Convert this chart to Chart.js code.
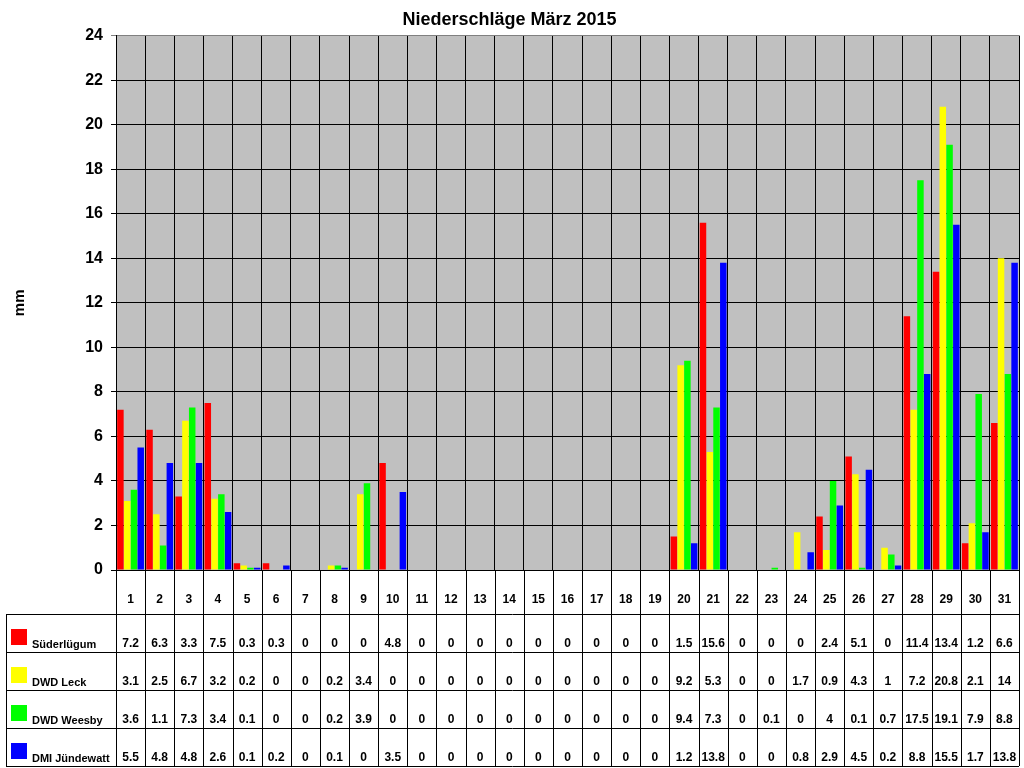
<!DOCTYPE html>
<html>
<head>
<meta charset="utf-8">
<script src="https://cdn.jsdelivr.net/npm/chart.js@4/dist/chart.umd.min.js"></script>
<style>
  html, body { margin: 0; padding: 0; background: #fff; overflow: hidden; }
  #wrap { position: relative; width: 1024px; height: 768px; }
</style>
</head>
<body>
<div id="wrap"><canvas id="myChart"></canvas></div>
<script>
// Tage im März
const days = ["1","2","3","4","5","6","7","8","9","10","11","12","13","14","15","16",
  "17","18","19","20","21","22","23","24","25","26","27","28","29","30","31"];

// Niederschlag in mm je Station
const suederluegum = [7.2, 6.3, 3.3, 7.5, 0.3, 0.3, 0, 0, 0, 4.8, 0, 0, 0, 0, 0, 0,
  0, 0, 0, 1.5, 15.6, 0, 0, 0, 2.4, 5.1, 0, 11.4, 13.4, 1.2, 6.6];
const dwdLeck = [3.1, 2.5, 6.7, 3.2, 0.2, 0, 0, 0.2, 3.4, 0, 0, 0, 0, 0, 0, 0,
  0, 0, 0, 9.2, 5.3, 0, 0, 1.7, 0.9, 4.3, 1, 7.2, 20.8, 2.1, 14];
const dwdWeesby = [3.6, 1.1, 7.3, 3.4, 0.1, 0, 0, 0.2, 3.9, 0, 0, 0, 0, 0, 0, 0,
  0, 0, 0, 9.4, 7.3, 0, 0.1, 0, 4, 0.1, 0.7, 17.5, 19.1, 7.9, 8.8];
const dmiJuendewatt = [5.5, 4.8, 4.8, 2.6, 0.1, 0.2, 0, 0.1, 0, 3.5, 0, 0, 0, 0, 0, 0,
  0, 0, 0, 1.2, 13.8, 0, 0, 0.8, 2.9, 4.5, 0.2, 8.8, 15.5, 1.7, 13.8];

const stations = ["Süderlügum", "DWD Leck", "DWD Weesby", "DMI Jündewatt"];
const colors = ["#ff0000", "#ffff00", "#00ff00", "#0000ff"];

Chart.defaults.font.family = "'Liberation Sans', Arial, sans-serif";
Chart.defaults.color = "#000";

// grauer Hintergrund der Zeichenfläche
const plotBackground = {
  id: "plotBackground",
  beforeDraw(chart) {
    const { ctx, chartArea: a } = chart;
    ctx.save();
    ctx.fillStyle = "#c0c0c0";
    ctx.fillRect(a.left, a.top, a.right - a.left, a.bottom - a.top);
    ctx.restore();
  }
};

// Datentabelle unter dem Diagramm
const dataTable = {
  id: "dataTable",
  afterDraw(chart) {
    const { ctx, chartArea: a } = chart;
    const xs = chart.scales.x;
    const n = days.length;
    const w = (a.right - a.left) / n;
    const tableTop = a.bottom + 44;
    const rowH = 38;
    const bottom = tableTop + rowH * stations.length;

    ctx.save();
    ctx.strokeStyle = "#000";
    ctx.lineWidth = 1;
    ctx.beginPath();
    for (let k = 0; k <= n; k++) {
      const x = Math.round(a.left + k * w) + 0.5;
      ctx.moveTo(x, a.bottom);
      ctx.lineTo(x, bottom);
    }
    for (let r = 0; r <= stations.length; r++) {
      const y = tableTop + r * rowH + 0.5;
      ctx.moveTo(6, y);
      ctx.lineTo(a.right, y);
    }
    ctx.moveTo(6.5, tableTop);
    ctx.lineTo(6.5, bottom);
    ctx.stroke();

    chart.data.datasets.forEach((ds, r) => {
      const top = tableTop + r * rowH;
      ctx.fillStyle = colors[r];
      ctx.fillRect(11, top + 15, 16, 16);
      ctx.fillStyle = "#000";
      ctx.textBaseline = "alphabetic";
      ctx.textAlign = "left";
      ctx.font = "bold 11px 'Liberation Sans', Arial, sans-serif";
      ctx.fillText(stations[r], 32, top + 34);
      ctx.textAlign = "center";
      ctx.font = "bold 12px 'Liberation Sans', Arial, sans-serif";
      ds.data.forEach((v, i) => {
        ctx.fillText(String(v), xs.getPixelForValue(i), top + 33);
      });
    });
    ctx.restore();
  }
};

const ctx = document.getElementById("myChart");
const myChart = new Chart(ctx, {
  type: "bar",
  data: {
    labels: days,
    datasets: [suederluegum, dwdLeck, dwdWeesby, dmiJuendewatt].map((d, i) => ({
      label: stations[i],
      data: d,
      backgroundColor: colors[i],
      borderWidth: 0,
      categoryPercentage: 0.93,
      barPercentage: 0.96
    }))
  },
  options: {
    responsive: true,
    maintainAspectRatio: false,
    devicePixelRatio: 1,
    animation: false,
    layout: { padding: { left: 0, right: 5, top: 0, bottom: 0 } },
    plugins: {
      legend: { display: false },
      tooltip: { enabled: false },
      title: {
        display: true,
        text: "Niederschläge März 2015",
        font: { size: 18, weight: "bold" },
        color: "#000",
        padding: { top: 9, bottom: 5 }
      }
    },
    scales: {
      x: {
        grid: { color: "#000", offset: true, drawTicks: false },
        border: { color: "#000" },
        ticks: {
          padding: 22,
          maxRotation: 0,
          autoSkip: false,
          font: { size: 12, weight: "bold" }
        },
        afterFit(scale) {
          scale.height = 198;
          scale.paddingLeft = 0;
          scale.paddingRight = 0;
        }
      },
      y: {
        min: 0,
        max: 24,
        grid: {
          color: (c) => (c.tick && c.tick.value === 24 ? "#808080" : "#000"),
          tickLength: 5
        },
        border: { color: "#000" },
        ticks: {
          stepSize: 2,
          padding: 8,
          font: { size: 16, weight: "bold" }
        },
        title: {
          display: true,
          text: "mm",
          font: { size: 15, weight: "bold" },
          padding: { top: 11, bottom: 0 }
        },
        afterFit(scale) { scale.width = 116; }
      }
    }
  },
  plugins: [plotBackground, dataTable]
});
</script>
</body>
</html>
